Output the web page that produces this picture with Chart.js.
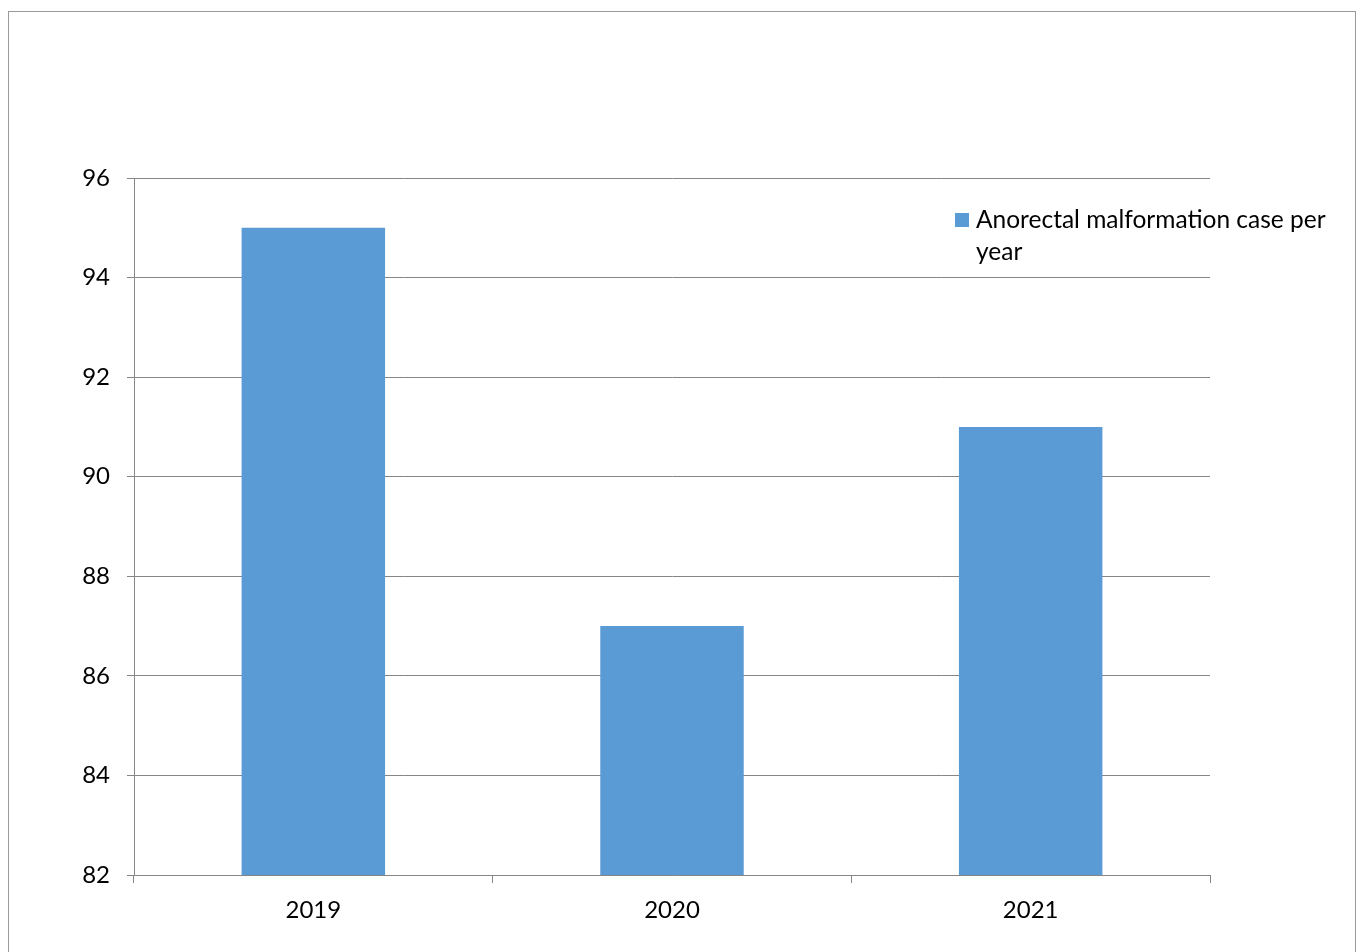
<!DOCTYPE html>
<html>
<head>
<meta charset="utf-8">
<script src="https://cdn.jsdelivr.net/npm/chart.js@4"></script>
<style>
  html, body { margin: 0; padding: 0; background: #fff; }
  #wrap { position: relative; width: 1364px; height: 952px; overflow: hidden; }
  #frame { position: absolute; left: 8px; top: 11px; width: 1348px; height: 960px;
           border: 1px solid #9a9a9a; box-sizing: border-box; }
  canvas { position: absolute; left: 0; top: 0; }
</style>
</head>
<body>
<div id="wrap">
  <div id="frame"></div>
  <canvas id="chart" width="1364" height="952"></canvas>
</div>
<script>
const years = ['2019', '2020', '2021'];
const cases = [95, 87, 91];
const seriesName = 'Anorectal malformation case per year';
const legendLines = ['Anorectal malformation case per', 'year'];

const FONT = 'Lato, "Open Sans", sans-serif';

// legend drawn by hand so the label can wrap onto two lines
const sideLegend = {
  id: 'sideLegend',
  afterDraw(chart) {
    const ctx = chart.ctx;
    const ds = chart.data.datasets[0];
    ctx.save();
    ctx.fillStyle = ds.backgroundColor;
    ctx.fillRect(955, 213, 14, 14);
    ctx.fillStyle = '#000';
    ctx.font = '24.5px ' + FONT;
    ctx.textBaseline = 'middle';
    legendLines.forEach((line, i) => {
      ctx.fillText(line, 976, 220 + i * 32);
    });
    ctx.restore();
  }
};

new Chart(document.getElementById('chart'), {
  type: 'bar',
  data: {
    labels: years,
    datasets: [{
      label: seriesName,
      data: cases,
      backgroundColor: '#5b9bd5',
      categoryPercentage: 1,
      barPercentage: 0.4
    }]
  },
  options: {
    responsive: false,
    animation: false,
    layout: { padding: { left: 64, right: 154, top: 178, bottom: 0 } },
    plugins: { legend: { display: false }, tooltip: { enabled: false } },
    scales: {
      x: {
        grid: { offset: true, drawOnChartArea: false, color: '#868686', tickLength: 8 },
        border: { color: '#868686' },
        ticks: { color: '#000', font: { family: FONT, size: 24 }, padding: 13 },
        afterFit(s) { s.height = 77; }
      },
      y: {
        min: 82,
        max: 96,
        ticks: { stepSize: 2, color: '#000', font: { family: FONT, size: 24 }, padding: 17 },
        grid: { color: '#868686', tickLength: 7 },
        border: { color: '#868686' },
        afterFit(s) { s.width = 70; }
      }
    }
  },
  plugins: [sideLegend]
});
</script>
</body>
</html>
